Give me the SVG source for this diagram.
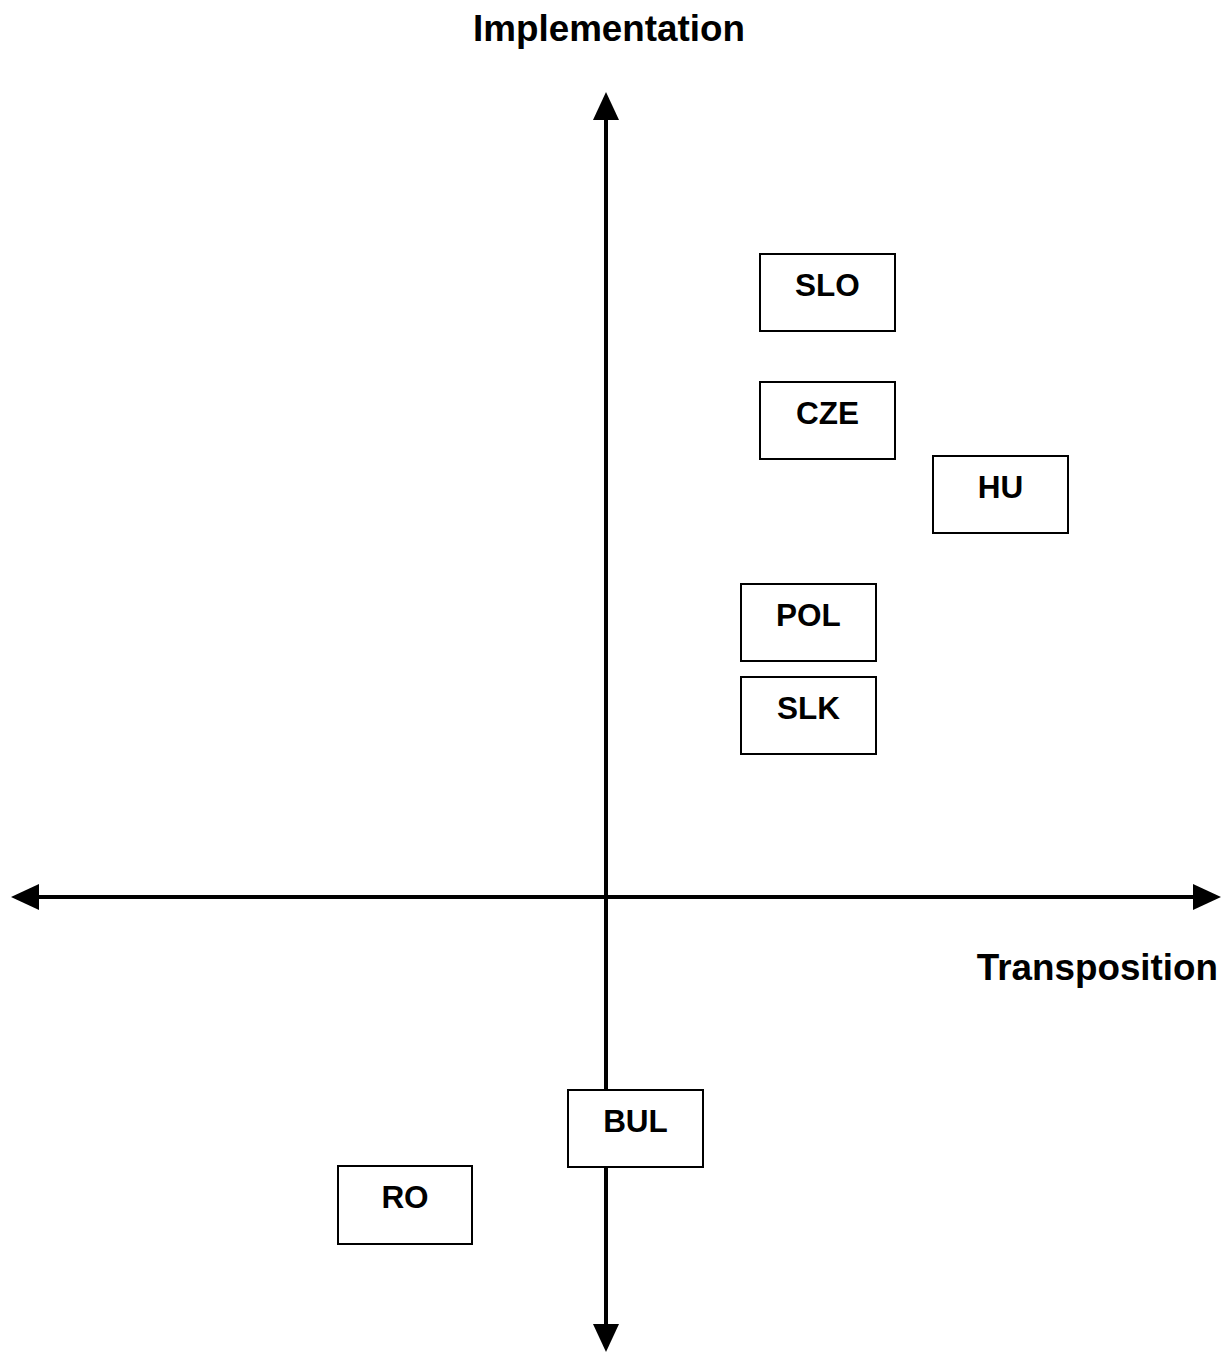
<svg xmlns="http://www.w3.org/2000/svg" width="1224" height="1355" viewBox="0 0 1224 1355">
<style>
.box{fill:#fff;stroke:#000;stroke-width:2}
.lbl{font-family:"Liberation Sans",Arial,sans-serif;font-weight:bold;font-size:31.5px;text-anchor:middle;fill:#000}
.ttl{font-family:"Liberation Sans",Arial,sans-serif;font-weight:bold;font-size:36.8px;fill:#000}
.axis{stroke:#000;stroke-width:4;fill:none}
</style>
<defs>
<marker id="ah" markerUnits="userSpaceOnUse" markerWidth="28" markerHeight="28" viewBox="0 0 28 28" refX="1" refY="14" orient="auto-start-reverse">
<path d="M0,1 L28,14 L0,27 Z" fill="#000"/>
</marker>
</defs>
<rect width="1224" height="1355" fill="#fff"/>
<text class="ttl" x="609" y="41" text-anchor="middle">Implementation</text>
<text class="ttl" x="1218" y="980" text-anchor="end">Transposition</text>
<g id="connectors">
<line class="axis" x1="606" y1="1325" x2="606" y2="119" marker-start="url(#ah)" marker-end="url(#ah)"/>
<line class="axis" x1="38" y1="897" x2="1194" y2="897" marker-start="url(#ah)" marker-end="url(#ah)"/>
</g>
<g id="SLO"><rect class="box" x="760" y="254" width="135" height="77"/><text class="lbl" x="827.5" y="296">SLO</text></g>
<g id="CZE"><rect class="box" x="760" y="382" width="135" height="77"/><text class="lbl" x="827.5" y="424">CZE</text></g>
<g id="HU"><rect class="box" x="933" y="456" width="135" height="77"/><text class="lbl" x="1000.5" y="498">HU</text></g>
<g id="POL"><rect class="box" x="741" y="584" width="135" height="77"/><text class="lbl" x="808.5" y="626">POL</text></g>
<g id="SLK"><rect class="box" x="741" y="677" width="135" height="77"/><text class="lbl" x="808.5" y="719">SLK</text></g>
<g id="BUL"><rect class="box" x="568" y="1090" width="135" height="77"/><text class="lbl" x="635.5" y="1132">BUL</text></g>
<g id="RO"><rect class="box" x="338" y="1166" width="134" height="78"/><text class="lbl" x="405" y="1208">RO</text></g>
</svg>
